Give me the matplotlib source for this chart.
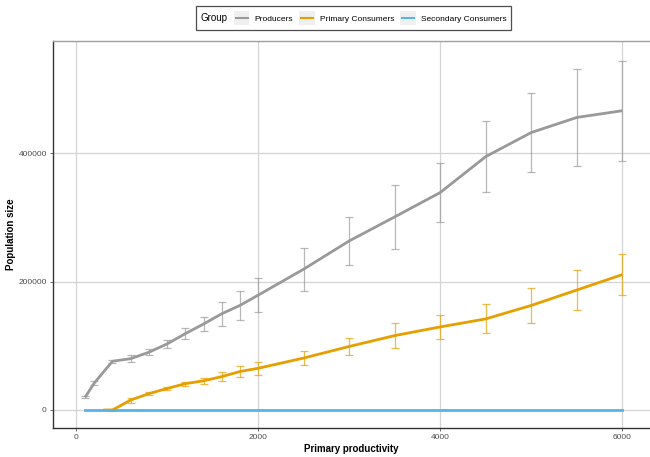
import numpy as np
import matplotlib
matplotlib.use("Agg")
import matplotlib.pyplot as plt
from matplotlib.legend_handler import HandlerBase
from matplotlib.patches import Rectangle
from matplotlib.lines import Line2D

plt.rcParams["font.family"] = ["Liberation Sans", "DejaVu Sans"]

# Mean population size and error half-width per productivity level
prod_x = [100, 200, 400, 600, 800, 1000, 1200, 1400, 1600, 1800,
          2000, 2500, 3000, 3500, 4000, 4500, 5000, 5500, 6000]
prod_y = [20000, 42000, 76000, 80000, 90000, 103000, 119000, 134000, 150000, 163000,
          179000, 219500, 263500, 301000, 339000, 395000, 432500, 456000, 466500]
prod_err = [1500, 2500, 2500, 5000, 4500, 6500, 8500, 11000, 18500, 22500,
            27000, 33500, 38000, 49500, 46500, 55500, 61500, 75000, 78000]

prim_x = [300, 400, 600, 800, 1000, 1200, 1400, 1600, 1800,
          2000, 2500, 3000, 3500, 4000, 4500, 5000, 5500, 6000]
prim_y = [0, 0, 15500, 25500, 33500, 41000, 45500, 52000, 60000,
          65000, 81000, 99000, 116000, 129500, 142000, 163000, 187000, 211000]
prim_err = [0, 800, 3900, 2600, 3100, 3100, 4400, 7200, 8300,
            10300, 11000, 13700, 20000, 18600, 22700, 26800, 31000, 31700]

sec_x = [100, 6000]
sec_y = [0, 0]

groups = ["Producers", "Primary Consumers", "Secondary Consumers"]
colors = ["#999999", "#E69F00", "#56B4E9"]


class KeyHandler(HandlerBase):
    """ggplot-style legend key: grey square with a short line across it."""
    def create_artists(self, legend, orig_handle, xdescent, ydescent,
                       width, height, fontsize, trans):
        bg = Rectangle((-xdescent, -ydescent), width, height,
                       facecolor="#efefef", edgecolor="none", transform=trans)
        y = -ydescent + height / 2
        ln = Line2D([-xdescent + 0.1 * width, -xdescent + 0.9 * width], [y, y],
                    color=orig_handle.get_color(), linewidth=1.5, transform=trans)
        return [bg, ln]


fig = plt.figure(figsize=(6.5, 4.57), dpi=100)
ax = fig.add_axes([53 / 650, 29 / 457, 597 / 650, 387 / 457])

series = [(prod_x, prod_y, prod_err), (prim_x, prim_y, prim_err)]
handles = []
for (x, y, e), name, c in zip(series, groups[:2], colors[:2]):
    ax.errorbar(x, y, yerr=e, fmt="none", ecolor=c, alpha=0.7, elinewidth=0.9,
                capsize=3.2, capthick=0.9, zorder=3)
    h, = ax.plot(x, y, color=c, linewidth=2, zorder=4, label=name,
                 solid_capstyle="butt")
    handles.append(h)
h, = ax.plot(sec_x, sec_y, color=colors[2], linewidth=2, zorder=4, label=groups[2])
handles.append(h)

ax.set_xlim(-253, 6304)
ax.set_ylim(-28060, 575160)
ax.set_xticks([0, 2000, 4000, 6000])
ax.set_yticks([0, 200000, 400000])
ax.set_yticklabels(["0", "200000", "400000"])
ax.grid(True, color="#d4d4d4", linewidth=0.9)
ax.set_axisbelow(True)
ax.tick_params(axis="both", length=2.5, width=0.6, color="#555555",
               labelsize=6, labelcolor="#4d4d4d", pad=2)

for s in ["left", "bottom"]:
    ax.spines[s].set_color("#333333")
    ax.spines[s].set_linewidth(1.0)
ax.spines["top"].set_color("#a0a0a0")
ax.spines["top"].set_linewidth(1.0)
ax.spines["right"].set_visible(False)

ax.set_xlabel("Primary productivity", fontsize=7, fontweight="bold", labelpad=2)
ax.set_ylabel("Population size", fontsize=7, fontweight="bold", labelpad=2)

leg = fig.legend(handles, groups, title="Group", ncol=3, loc="center",
                 bbox_to_anchor=(353.5 / 650, 1 - 18 / 457), fontsize=6,
                 title_fontsize=7, frameon=True, fancybox=False,
                 edgecolor="#222222", handlelength=1.85, handleheight=2.05,
                 handletextpad=0.6, columnspacing=0.75, borderpad=0.6,
                 handler_map={Line2D: KeyHandler()})
leg.get_frame().set_linewidth(0.9)

# put the legend title on the same row as the entries
outer = leg.get_children()[0]
title_box, entries = outer.get_children()[0], outer.get_children()[1]
outer._children = [entries]
entries._children = [title_box] + entries.get_children()
entries.align = "center"

fig.savefig("out.png", dpi=100, facecolor="white")
